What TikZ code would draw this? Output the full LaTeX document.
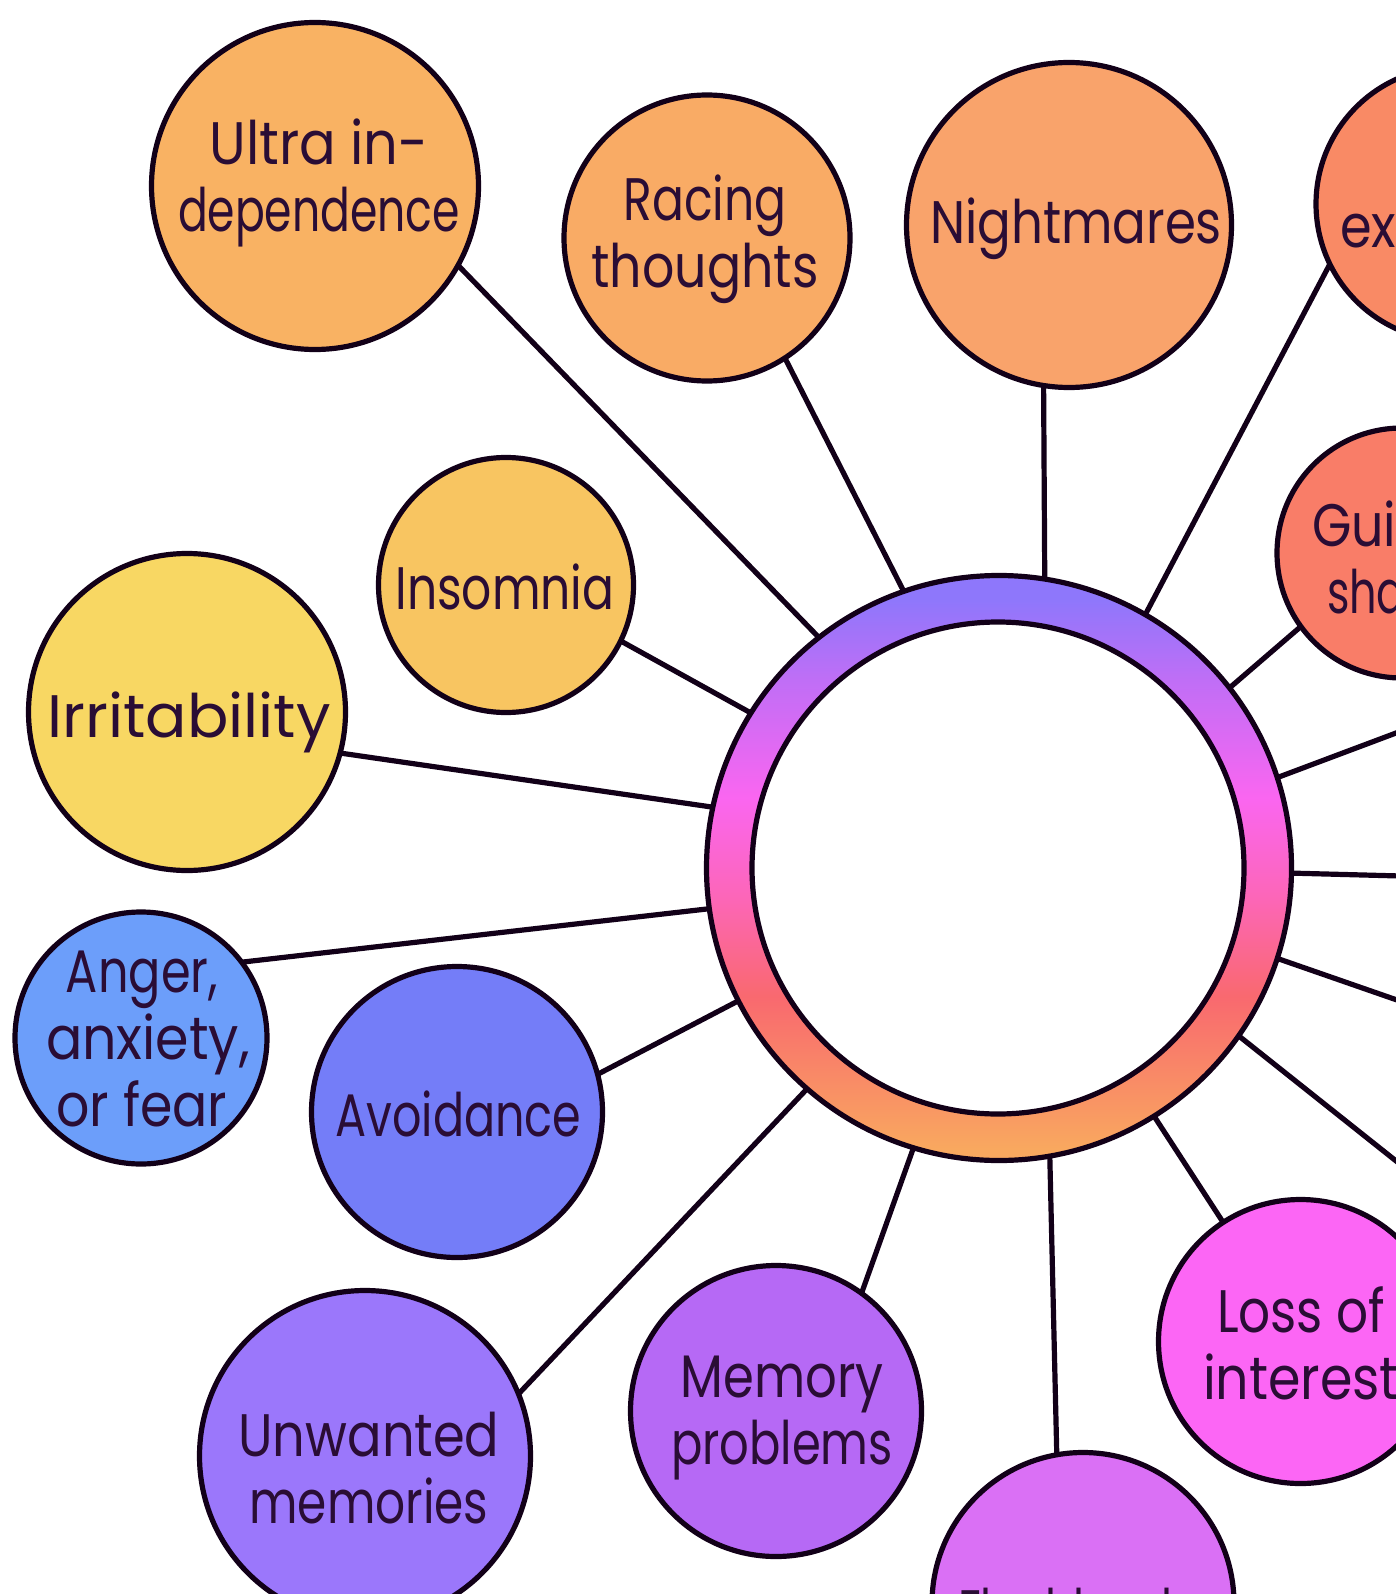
\documentclass[tikz,border=0pt]{standalone}
\usepackage{fontspec}
\usepackage{graphicx}
\setmainfont{Poppins}
\definecolor{ink}{HTML}{120018}
\definecolor{txt}{HTML}{2A0D35}
\definecolor{cA}{HTML}{F9A85F}
\definecolor{cB}{HTML}{F9696F}
\definecolor{cC}{HTML}{FC66B8}
\definecolor{cD}{HTML}{FA66F0}
\definecolor{cE}{HTML}{C06EF6}
\definecolor{cF}{HTML}{8E77FB}
\newlength\fitlen
\newcommand\fw[2]{\settowidth\fitlen{#2}\pgfmathsetmacro\fitr{#1/\fitlen}\scalebox{\fitr}[1]{#2}}
\pgfdeclareverticalshading{ringsh}{100bp}{
  color(0bp)=(cA); color(26bp)=(cA); color(39bp)=(cB); color(47.5bp)=(cC);
  color(56bp)=(cD); color(66bp)=(cE); color(73bp)=(cF); color(100bp)=(cF)}
\tikzset{
  bub/.style={circle,draw=ink,line width=5.2pt,inner sep=0pt,outer sep=0pt},
  lbl/.style={text=txt,align=center,inner sep=0pt,font=\fontsize{60}{67}\selectfont},
  conn/.style={draw=ink,line width=5.2pt}
}
\begin{document}
\begin{tikzpicture}[x=1pt,y=-1pt]
\useasboundingbox (0,0) rectangle (1396,1594);
\clip (0,0) rectangle (1396,1594);
\fill[white] (0,0) rectangle (1396,1594);
% ring
\node[bub,shade,shading=ringsh,minimum size=585pt] (ring) at (999,868) {};
\node[bub,fill=white,minimum size=492pt] (hub) at (998,868) {};
% bubbles
\node[bub,fill={rgb,255:red,249;green,178;blue,99},minimum size=327pt] (ultra) at (315,186) {};
\node[bub,fill={rgb,255:red,249;green,171;blue,101},minimum size=286pt] (racing) at (707,238) {};
\node[bub,fill={rgb,255:red,249;green,163;blue,107},minimum size=325pt] (night) at (1069,225) {};
\node[bub,fill={rgb,255:red,249;green,138;blue,101},minimum size=274pt] (expl) at (1453,204) {};
\node[bub,fill={rgb,255:red,249;green,125;blue,104},minimum size=250pt] (guilt) at (1402,553) {};
\node[bub,fill={rgb,255:red,252;green,102;blue,245},minimum size=284pt] (loss) at (1300.5,1341.5) {};
\node[bub,fill={rgb,255:red,218;green,112;blue,245},minimum size=302pt] (flash) at (1083,1603.5) {};
\node[bub,fill={rgb,255:red,182;green,105;blue,245},minimum size=291pt] (memory) at (776,1411) {};
\node[bub,fill={rgb,255:red,155;green,119;blue,251},minimum size=331pt] (unwanted) at (365,1456) {};
\node[bub,fill={rgb,255:red,116;green,125;blue,248},minimum size=291pt] (avoid) at (457,1112) {};
\node[bub,fill={rgb,255:red,108;green,158;blue,250},minimum size=252pt] (anger) at (141,1038) {};
\node[bub,fill={rgb,255:red,248;green,215;blue,99},minimum size=317pt] (irrit) at (187,712) {};
\node[bub,fill={rgb,255:red,248;green,197;blue,97},minimum size=255pt] (insom) at (506,585) {};
% free ends
\coordinate (edgeA) at (1420,724);
\coordinate (edgeB) at (1420,876.5);
\coordinate (edgeC) at (1420,1008);
\coordinate (edgeD) at (1420,1180);
% connectors
\draw[conn] (ring.128.5) -- (ultra.-29.5);
\draw[conn] (ring.109.1) -- (racing.-57);
\draw[conn] (ring.81.5) -- (night.261);
\draw[conn] (ring.60) -- (expl.206);
\draw[conn] (ring.38.9) -- (guilt.216.5);
\draw[conn] (ring.18.2) -- (edgeA);
\draw[conn] (ring.-1.7) -- (edgeB);
\draw[conn] (ring.-18.3) -- (edgeC);
\draw[conn] (ring.-35.1) -- (edgeD);
\draw[conn] (ring.-58.1) -- (loss.123.1);
\draw[conn] (ring.-80.9) -- (flash.100.4);
\draw[conn] (ring.253.4) -- (memory.54.8);
\draw[conn] (ring.229.7) -- (unwanted.22);
\draw[conn] (ring.207.9) -- (avoid.15);
\draw[conn] (ring.188.2) -- (anger.37.8);
\draw[conn] (ring.168.3) -- (irrit.-15.1);
\draw[conn] (ring.148.6) -- (insom.-26.4);
% labels
\node[lbl] (ultraT) at (319,183) {\fw{219}{Ultra in-}\\\fw{282}{dependence}};
\node[lbl] (racingT) at (705,239) {\fw{163}{Racing}\\\fw{227}{thoughts}};
\node[lbl] (nightT) at (1076,229) {\fw{292}{Nightmares}};
\node[lbl,anchor=west] (explT) at (1340,231) {\fw{56}{ex}};
\node[lbl] (guiltT) at (1402,557) {\fw{180}{Guilt or}\\\fw{150}{shame}};
\node[lbl] (lossT) at (1301,1343) {\fw{168}{Loss of}\\\fw{196}{interest}};
\node[lbl] (flashT) at (1083,1611) {\fw{250}{Flashbacks}};
\node[lbl] (memoryT) at (782,1418) {\fw{203}{Memory}\\\fw{222}{problems}};
\node[lbl] (unwantedT) at (369,1468) {\fw{261}{Unwanted}\\\fw{239}{memories}};
\node[lbl] (avoidT) at (458.5,1114) {\fw{246}{Avoidance}};
\node[lbl] (angerT) at (142,1039) {\fw{152}{Anger,}\\\hspace{12pt}\fw{204}{anxiety,}\\\fw{171}{or fear}};
\node[lbl] (irritT) at (189,722) {\fw{283}{Irritability}};
\node[lbl] (insomT) at (505,587) {\fw{219}{Insomnia}};
\end{tikzpicture}
\end{document}
